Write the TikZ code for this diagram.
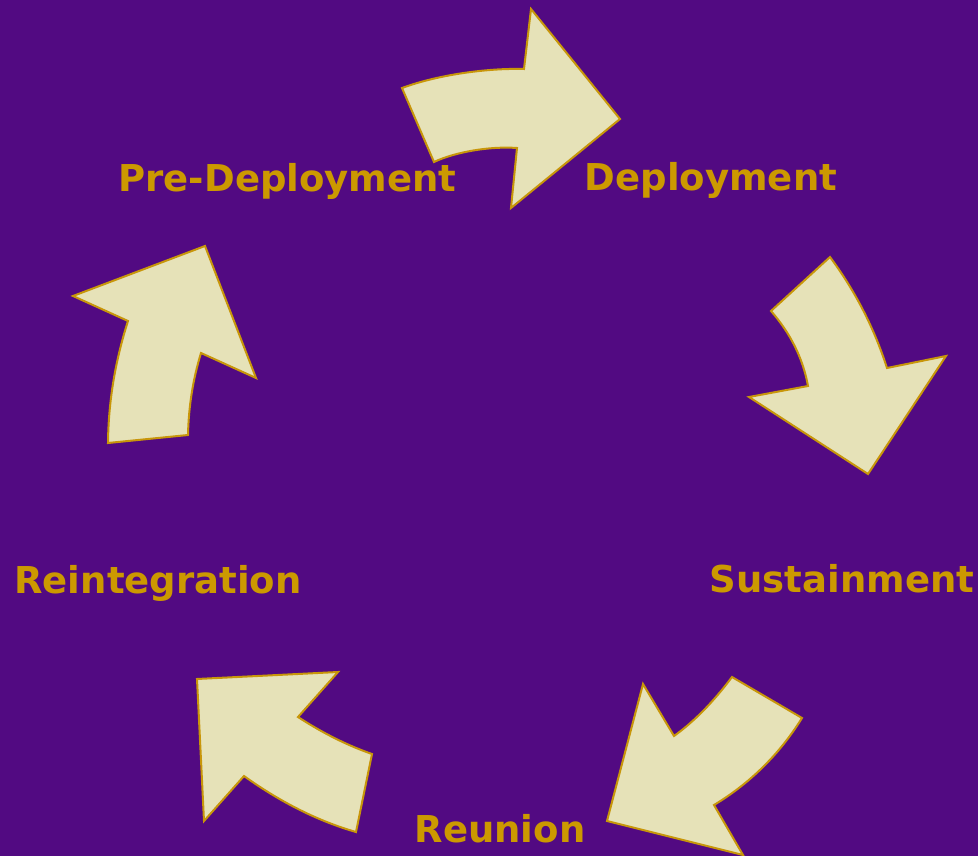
\documentclass[tikz,border=0pt]{standalone}
\usepackage{fontspec}
\newfontfamily\lblfont{DejaVu Sans}
\definecolor{bgpurple}{RGB}{82,10,130}
\definecolor{goldtext}{RGB}{204,153,0}
\definecolor{arrowfill}{RGB}{230,226,184}
\definecolor{arrowedge}{RGB}{200,150,10}
\tikzset{
  cyclearrow/.style={fill=arrowfill, draw=arrowedge, line width=2pt, line join=miter},
  phase/.style={text=goldtext, font=\lblfont\bfseries\fontsize{37}{40}\selectfont, inner sep=0pt, anchor=base}
}
\begin{document}
\begin{tikzpicture}[x=1pt,y=-1pt]
\fill[bgpurple] (0,0) rectangle (978,856);
\useasboundingbox (0,0) rectangle (978,856);
% top arrow
\draw[cyclearrow] (402,88) .. controls (440,74) and (490,68) .. (524,69)
  -- (531,9) -- (620,119) -- (511,208) -- (517,148)
  .. controls (490,146) and (455,152) .. (434,162) -- cycle;
% right arrow
\draw[cyclearrow] (830,257) -- (771,311) .. controls (790.7,333.6) and (803,358.6) .. (808,386)
  -- (749,397) -- (868,474) -- (946,356) -- (887,368)
  .. controls (874,327.7) and (855,290.7) .. (830,257) -- cycle;
% bottom right arrow
\draw[cyclearrow] (732,677) -- (802,718) .. controls (779.7,753.9) and (750.4,783) .. (714,805)
  -- (743,855) -- (607,821) -- (643,684) -- (674,736)
  .. controls (693.7,721.9) and (713.1,702.3) .. (732,677) -- cycle;
% bottom left arrow
\draw[cyclearrow] (197,679) -- (338,672) -- (298,717) .. controls (322.7,733.1) and (347.3,745.4) .. (372,754)
  -- (356,832) .. controls (318.7,821.3) and (281.3,802.7) .. (244,776)
  -- (204,821) -- cycle;
% left arrow
\draw[cyclearrow] (108,443) .. controls (108.4,401.9) and (115.1,361.3) .. (128,321)
  -- (73,296) -- (205,246) -- (256,378) -- (201,353)
  .. controls (192.9,379.4) and (188.6,406.7) .. (188,435) -- cycle;
% labels
\node[phase] (pre) at (287.5,192) {Pre-Deployment};
\node[phase] (dep) at (711,191) {Deployment};
\node[phase] (sus) at (842,592) {Sustainment};
\node[phase] (rei) at (158,593) {Reintegration};
\node[phase] (reu) at (500,842) {Reunion};
\end{tikzpicture}
\end{document}
